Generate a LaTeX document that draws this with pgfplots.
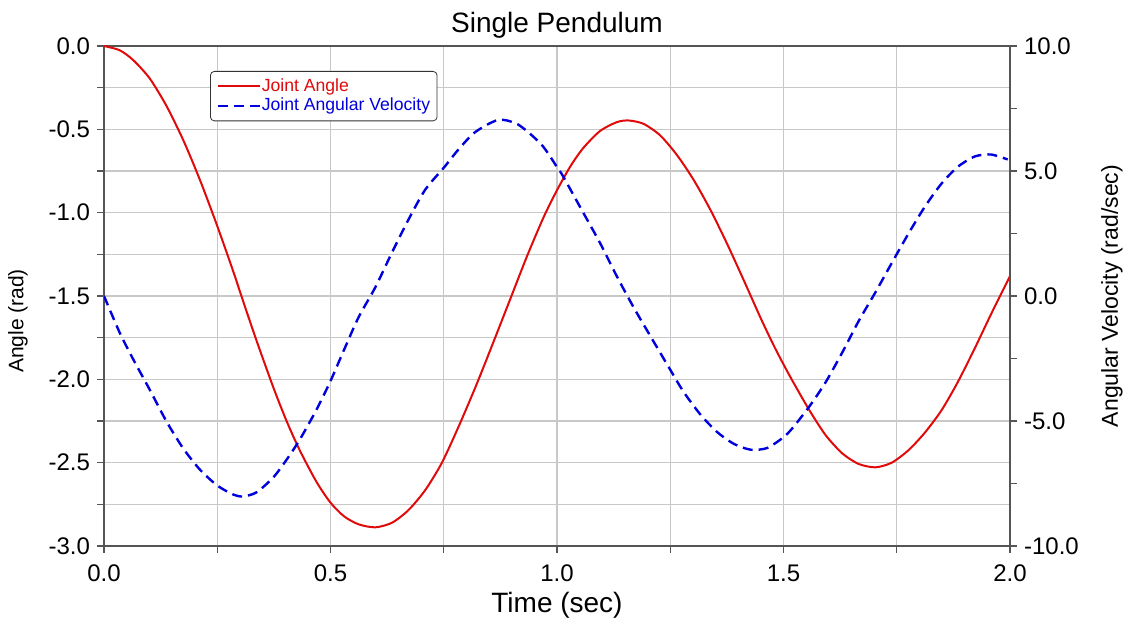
\documentclass[border=0pt]{standalone}
\usepackage{fontspec}
\setmainfont{Liberation Sans}
\usepackage{pgfplots}
\pgfplotsset{compat=1.18}
\definecolor{cred}{RGB}{225,10,10}
\definecolor{cblue}{RGB}{0,0,220}
\definecolor{gridc}{RGB}{200,200,200}
\definecolor{axc}{RGB}{85,85,85}

\pgfplotstableread{
t a
0.000 0.000
0.035 -0.026
0.065 -0.086
0.101 -0.195
0.138 -0.360
0.175 -0.565
0.212 -0.805
0.250 -1.080
0.285 -1.350
0.307 -1.530
0.337 -1.770
0.374 -2.050
0.403 -2.250
0.432 -2.425
0.469 -2.615
0.500 -2.740
0.530 -2.822
0.562 -2.870
0.599 -2.888
0.636 -2.860
0.672 -2.785
0.709 -2.665
0.746 -2.500
0.785 -2.270
0.824 -2.020
0.862 -1.760
0.898 -1.510
0.934 -1.260
0.970 -1.030
1.000 -0.865
1.030 -0.720
1.058 -0.612
1.095 -0.510
1.132 -0.457
1.158 -0.447
1.191 -0.467
1.228 -0.537
1.265 -0.655
1.302 -0.805
1.339 -0.985
1.376 -1.190
1.413 -1.410
1.450 -1.635
1.479 -1.800
1.500 -1.910
1.520 -2.010
1.557 -2.185
1.593 -2.335
1.630 -2.445
1.666 -2.508
1.703 -2.528
1.739 -2.500
1.776 -2.425
1.812 -2.320
1.849 -2.185
1.885 -2.015
1.922 -1.815
1.958 -1.610
2.000 -1.380
}\angletab

\pgfplotstableread{
t v
0.000 0.00
0.035 -1.48
0.065 -2.55
0.101 -3.75
0.138 -5.02
0.175 -6.10
0.212 -6.95
0.250 -7.58
0.285 -7.94
0.307 -8.02
0.337 -7.85
0.374 -7.25
0.403 -6.55
0.432 -5.75
0.469 -4.55
0.500 -3.40
0.530 -2.15
0.562 -0.85
0.599 0.35
0.636 1.75
0.672 3.05
0.709 4.25
0.751 5.15
0.782 5.85
0.819 6.55
0.870 7.04
0.914 6.86
0.966 6.05
1.002 5.10
1.013 4.80
1.058 3.33
1.095 2.12
1.132 0.79
1.169 -0.45
1.206 -1.60
1.250 -2.95
1.280 -3.85
1.317 -4.75
1.354 -5.45
1.391 -5.92
1.428 -6.15
1.464 -6.08
1.500 -5.65
1.520 -5.28
1.557 -4.42
1.593 -3.45
1.630 -2.25
1.666 -1.00
1.703 0.15
1.739 1.32
1.776 2.50
1.812 3.57
1.849 4.50
1.885 5.17
1.922 5.58
1.958 5.66
1.995 5.46
}\veltab

\pgfplotsset{
  common/.style={
    width=453pt, height=250pt, scale only axis,
    xmin=0, xmax=2,
    tick align=outside,
    major tick length=3.5pt, minor tick length=3.5pt,
    every tick/.style={draw=axc, line width=0.6pt},
    axis line style={draw=axc, line width=0.8pt},
    tick label style={font=\fontsize{12}{14}\selectfont},
    /pgf/number format/.cd, fixed, fixed zerofill, precision=1, assume math mode=true,
  },
}

\begin{document}
\begin{tikzpicture}
\begin{axis}[common,
  ymin=-3, ymax=0,
  xtick={0,0.5,...,2}, ytick={-3,-2.5,...,0},
  minor x tick num=1, minor y tick num=1,
  tick pos=left,
  xticklabel style={yshift=-2.5pt},
  grid=both,
  major grid style={draw=gridc, line width=0.6pt},
  minor grid style={draw=gridc, line width=0.6pt},
  title={Single Pendulum},
  title style={font=\fontsize{14}{16}\selectfont, at={(axis description cs:0.5,1)}, anchor=base, yshift=0.5pt, inner sep=0pt},
  xlabel={Time (sec)},
  xlabel style={font=\fontsize{14}{16}\selectfont, at={(axis description cs:0.5,0)}, anchor=base, yshift=-33.5pt, inner sep=0pt},
  ylabel={Angle (rad)},
  ylabel style={font=\fontsize{10.5}{12}\selectfont, at={(axis description cs:-0.095,0.45)}, anchor=center, rotate=0, inner sep=0pt},
  legend cell align=left,
  legend image code/.code={\draw[#1] (0pt,0pt) -- (21pt,0pt);},
  legend style={at={(axis description cs:0.117,0.95)}, anchor=north west,
    draw=black!80, rounded corners=2pt, fill=white,
    font=\fontsize{8.8}{9.8}\selectfont,
    inner xsep=3pt, inner ysep=2pt, row sep=-1pt,
    nodes={inner xsep=0.5pt, inner ysep=1.5pt}},
]
\addplot[cred, line width=1pt, smooth, tension=0.45] table[x=t, y=a] {\angletab};
\addlegendentry{\textcolor{cred}{Joint Angle}}
\addlegendimage{cblue, line width=1.2pt, dash pattern=on 5pt off 3pt}
\addlegendentry{\textcolor{cblue}{Joint Angular Velocity}}
\end{axis}
\begin{axis}[common,
  ymin=-10, ymax=10,
  axis x line=none, axis y line*=right,
  ytick={-10,-5,0,5,10}, minor y tick num=1,
  ylabel={Angular Velocity (rad/sec)},
  ylabel style={font=\fontsize{11.5}{13}\selectfont, at={(axis description cs:1.1125,0.5)}, anchor=center, rotate=0, inner sep=0pt},
]
\addplot[cblue, line width=1.2pt, dash pattern=on 5pt off 3pt, smooth, tension=0.45] table[x=t, y=v] {\veltab};
\end{axis}
\pgfresetboundingbox
\path[use as bounding box] (-52pt,-36.5pt) rectangle (512.5pt,273pt);
\end{tikzpicture}
\end{document}
